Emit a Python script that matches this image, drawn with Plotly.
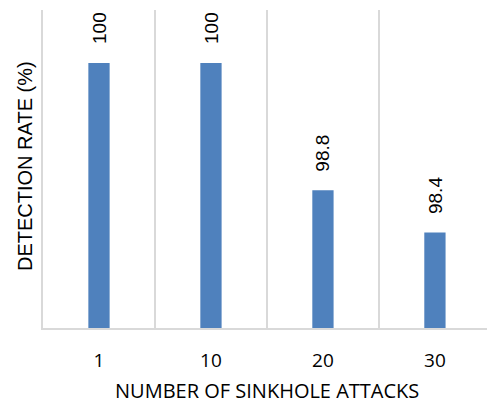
import plotly.graph_objects as go

# Detection rate per number of sinkhole attacks
attacks = ["1", "10", "20", "30"]
detection_rate = [100, 100, 98.8, 98.4]
label_text = ["100", "100", "98.8", "98.4"]

positions = list(range(len(attacks)))
boundaries = [p - 0.5 for p in positions]

fig = go.Figure()
fig.add_trace(go.Bar(
    x=positions,
    y=detection_rate,
    width=0.19,
    marker=dict(color="#4f81bd", line=dict(width=0)),
    hoverinfo="skip",
))

# value labels above each bar, rotated
for p, v, t in zip(positions, detection_rate, label_text):
    fig.add_annotation(
        x=p, y=v, text=t, textangle=-90, showarrow=False,
        xanchor="center", yanchor="bottom", yshift=17,
        font=dict(family="Liberation Sans", size=19, color="#000000"),
    )

# axis titles
fig.add_annotation(
    x=0, y=0.5, xref="paper", yref="paper", xanchor="center", yanchor="middle",
    xshift=-18, yshift=3, textangle=-90, showarrow=False,
    text="DETECTION RATE (%)",
    font=dict(family="Liberation Sans", size=20, color="#000000"),
)
fig.add_annotation(
    x=0.5, y=0, xref="paper", yref="paper", xanchor="center", yanchor="middle",
    xshift=2, yshift=-62, showarrow=False, borderpad=0,
    text="NUMBER OF SINKHOLE ATTACKS",
    font=dict(family="Open Sans", size=20, color="#000000"),
)

fig.update_layout(
    width=487, height=404,
    margin=dict(l=43, r=0, t=10, b=76),
    paper_bgcolor="white", plot_bgcolor="white",
    showlegend=False,
    xaxis=dict(
        range=[-0.5, 3.465],
        tickvals=positions, ticktext=attacks,
        tickfont=dict(family="Open Sans", size=19, color="#000000"),
        ticks="", showgrid=False, ticklabelstandoff=14,
        showline=True, linecolor="#d9d9d9", linewidth=2,
        minor=dict(tickvals=boundaries, showgrid=True,
                   gridcolor="#d9d9d9", gridwidth=1.5, ticks=""),
        zeroline=False,
    ),
    yaxis=dict(
        range=[97.5, 100.5],
        showticklabels=False, ticks="", showgrid=False,
        zeroline=False, showline=True, linecolor="#d9d9d9", linewidth=1.5,
    ),
)

fig.write_html("out.html")
